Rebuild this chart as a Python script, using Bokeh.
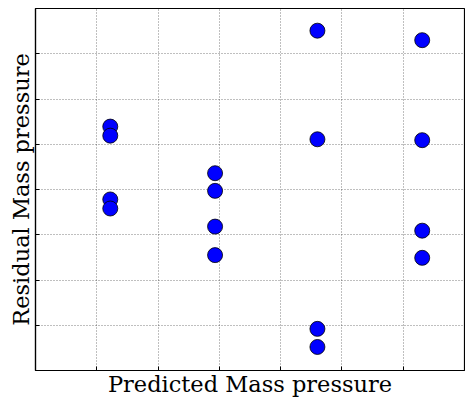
from bokeh.plotting import figure
from bokeh.embed import file_html
from bokeh.resources import INLINE
from bokeh.models import FixedTicker, CustomJSTickFormatter, ColumnDataSource

# Data (predicted vs residual)
predicted = [1.22, 1.22, 1.22, 1.22,
             2.93, 2.93, 2.93, 2.93,
             4.60, 4.60, 4.60, 4.60,
             6.31, 6.31, 6.31, 6.31]
residual = [5.39, 5.19, 3.78, 3.58,
            4.36, 3.97, 3.18, 2.55,
            7.51, 5.11, 0.92, 0.52,
            7.30, 5.09, 3.09, 2.49]
x_ticks = [1, 2, 3, 4, 5, 6]
y_ticks = [1, 2, 3, 4, 5, 6, 7]

src = ColumnDataSource(dict(x=predicted, y=residual))

p = figure(width=465, height=399, x_range=(0, 7), y_range=(0, 8),
           output_backend="svg", toolbar_location=None,
           min_border_top=8, min_border_right=1, min_border_left=35, min_border_bottom=0)
p.background_fill_color = "white"
p.border_fill_color = "white"
p.outline_line_color = "black"
p.outline_line_width = 1.2

p.scatter("x", "y", source=src, size=15, fill_color="#0000ff",
          line_color="black", line_width=0.8)

blank = CustomJSTickFormatter(code="return ''")
for ax, ticks in ((p.xaxis[0], x_ticks), (p.yaxis[0], y_ticks)):
    ax.ticker = FixedTicker(ticks=ticks)
    ax.formatter = blank
    ax.major_label_text_font_size = "1px"
    ax.major_label_standoff = 0
    ax.major_tick_in = 4
    ax.major_tick_out = 0
    ax.minor_tick_line_color = None
    ax.axis_line_color = "black"
    ax.axis_line_width = 1.2
    ax.axis_label_text_font = "DejaVu Serif"
    ax.axis_label_text_font_size = "22.5px"
    ax.axis_label_text_font_style = "normal"
    ax.axis_label_text_color = "black"
    ax.axis_label_standoff = 2

p.xaxis.axis_label_standoff = 0
p.xaxis.axis_label = "Predicted Mass pressure"
p.yaxis.axis_label = "Residual Mass pressure"

p.xgrid.ticker = FixedTicker(ticks=x_ticks)
p.ygrid.ticker = FixedTicker(ticks=y_ticks)
for g in (p.xgrid[0], p.ygrid[0]):
    g.grid_line_color = "black"
    g.grid_line_alpha = 0.5
    g.grid_line_dash = "1 2"
    g.grid_line_width = 1

open("out.html", "w").write(file_html(p, INLINE))
